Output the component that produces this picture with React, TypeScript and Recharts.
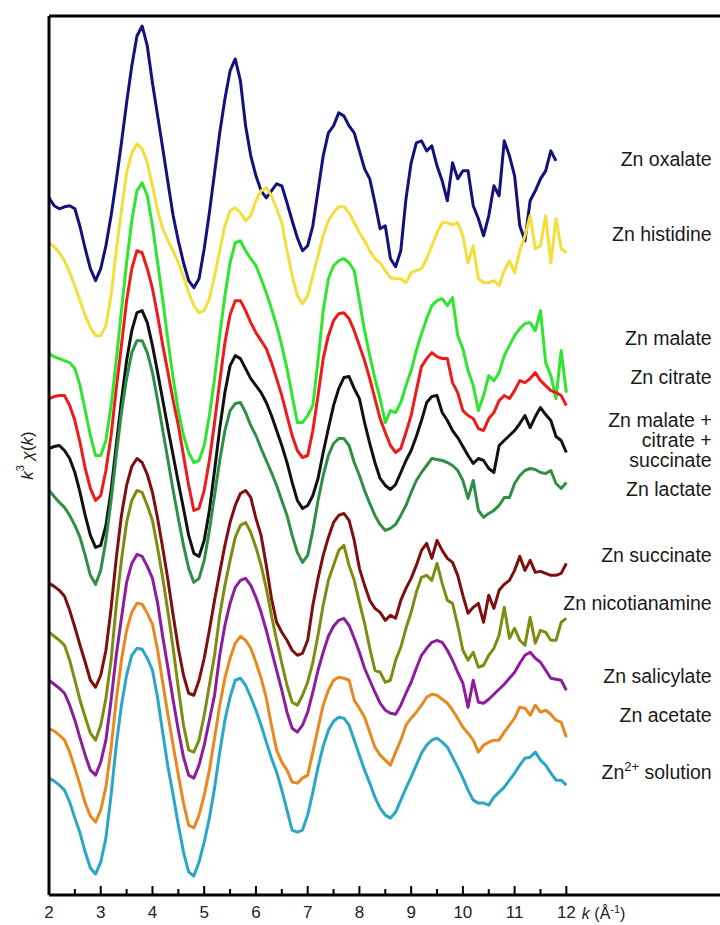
import { LineChart, Line, XAxis, YAxis, ReferenceDot } from "recharts";

const FONT = "'Liberation Sans', Arial, Helvetica, sans-serif";

// k grid (Å^-1)
const K = [
  2.0, 2.1, 2.2, 2.3, 2.4, 2.5, 2.6, 2.7, 2.8, 2.9,
  3.0, 3.1, 3.2, 3.3, 3.4, 3.5, 3.6, 3.7, 3.8, 3.9,
  4.0, 4.1, 4.2, 4.3, 4.4, 4.5, 4.6, 4.7, 4.8, 4.9,
  5.0, 5.1, 5.2, 5.3, 5.4, 5.5, 5.6, 5.7, 5.8, 5.9,
  6.0, 6.1, 6.2, 6.3, 6.4, 6.5, 6.6, 6.7, 6.8, 6.9,
  7.0, 7.1, 7.2, 7.3, 7.4, 7.5, 7.6, 7.7, 7.8, 7.9,
  8.0, 8.1, 8.2, 8.3, 8.4, 8.5, 8.6, 8.7, 8.8, 8.9,
  9.0, 9.1, 9.2, 9.3, 9.4, 9.5, 9.6, 9.7, 9.8, 9.9,
  10.0, 10.1, 10.2, 10.3, 10.4, 10.5, 10.6, 10.7, 10.8, 10.9,
  11.0, 11.1, 11.2, 11.3, 11.4, 11.5, 11.6, 11.7, 11.8, 11.9,
  12.0,
];

// k^3 chi(k), stacked with offsets (arbitrary units)
const OXALATE = [
  69.8, 69.0, 68.7, 68.9, 69.0, 68.7, 66.9, 64.7, 62.7, 61.5,
  62.7, 65.0, 68.0, 71.5, 75.3, 79.3, 83.0, 86.0, 87.0, 85.0,
  81.3, 78.0, 74.7, 71.3, 68.0, 65.5, 63.3, 61.5, 60.8, 61.7,
  64.7, 68.3, 72.3, 76.3, 79.7, 82.5, 83.7, 81.5, 77.0, 74.0,
  72.0, 70.5, 69.8, 70.5, 71.2, 71.0, 69.3, 67.5, 65.8, 64.5,
  65.0, 67.0, 70.5, 74.0, 76.3, 77.0, 78.3, 78.0, 77.0, 76.3,
  74.5, 72.7, 71.7, 69.3, 66.7, 67.0, 63.7, 62.9, 64.5, 69.7,
  73.3, 75.3, 75.5, 74.5, 75.0, 73.0, 71.5, 69.5, 73.3, 71.7,
  72.5, 72.5, 69.0, 67.7, 66.0, 68.0, 71.0, 70.0, 75.5, 74.0,
  72.0, 67.0, 65.5, 69.5, 70.5, 71.7, 72.5, 74.5, 73.5, null,
  null,
];

const HISTIDINE = [
  65.3, 64.9, 64.3, 63.5, 62.3, 61.0, 59.5, 58.0, 56.8, 56.0,
  56.0, 57.0, 60.0, 64.5, 68.5, 72.3, 74.3, 75.2, 74.7, 73.3,
  71.0, 68.5, 66.7, 65.5, 64.5, 63.3, 61.9, 60.3, 59.0, 58.3,
  58.5, 59.7, 62.0, 64.5, 67.0, 68.5, 68.8, 68.3, 67.5, 68.0,
  69.5, 70.5, 70.8, 70.0, 68.7, 67.3, 64.5, 62.0, 60.0, 59.2,
  60.0, 62.0, 64.0, 66.0, 67.5, 68.3, 68.9, 68.9, 68.3, 67.3,
  66.3, 65.5, 64.5, 63.7, 63.3, 62.5, 61.8, 61.7, 61.7, 61.3,
  62.3, 62.5, 62.7, 63.7, 65.0, 66.3, 67.3, 67.3, 67.1, 67.3,
  66.0, 63.3, 65.0, 61.7, 61.3, 61.3, 61.5, 61.0, 62.5, 63.5,
  62.3, 64.5, 66.0, 68.0, 64.7, 65.0, 68.0, 63.3, 67.7, 64.7,
  64.3,
];

const MALATE = [
  54.2, 53.9, 53.7, 53.5, 53.3, 52.7, 51.0, 48.5, 46.0, 44.0,
  44.0, 45.5, 49.0, 53.5, 58.5, 63.3, 67.5, 70.5, 71.3, 70.0,
  67.0, 63.3, 59.5, 55.5, 51.7, 48.5, 46.0, 44.3, 43.3, 43.5,
  45.0, 48.0, 51.7, 56.0, 60.0, 63.3, 65.3, 65.5, 64.5, 63.7,
  63.0, 61.7, 60.3, 58.7, 57.0, 55.0, 52.7, 50.0, 47.3, 47.3,
  48.0, 49.0, 53.5, 58.5, 61.7, 63.0, 63.5, 63.7, 63.3, 62.5,
  59.5, 56.5, 54.0, 51.7, 49.7, 47.3, 48.5, 48.3, 49.3, 51.0,
  52.5, 54.5, 56.2, 57.7, 59.0, 59.5, 59.7, 59.0, 59.8, 56.0,
  54.7, 52.5, 51.0, 48.5, 50.0, 52.0, 51.5, 52.3, 54.0, 55.0,
  56.0, 56.7, 57.2, 57.3, 56.5, 58.5, 53.3, 52.0, 49.7, 54.5,
  50.3,
];

const CITRATE = [
  49.7, 49.9, 50.0, 50.0, 49.0, 47.5, 45.3, 42.7, 40.7, 39.5,
  40.0, 42.5, 46.0, 50.7, 55.0, 59.5, 62.7, 64.5, 64.3, 62.7,
  60.7, 58.0, 55.0, 52.3, 49.5, 47.0, 44.0, 41.0, 38.5, 38.7,
  40.5, 43.5, 47.3, 51.4, 55.3, 58.1, 59.5, 59.5, 58.5, 57.3,
  56.3, 55.5, 54.7, 53.3, 51.7, 50.0, 48.0, 46.0, 44.5, 43.8,
  44.0, 46.5, 50.0, 53.7, 56.0, 57.5, 58.2, 58.3, 57.7, 56.5,
  55.0, 53.5, 51.7, 49.7, 47.7, 46.3, 45.0, 44.3, 44.7, 46.3,
  48.0, 50.5, 52.9, 53.7, 54.3, 53.9, 53.7, 53.7, 51.3, 50.3,
  48.5, 48.0, 47.7, 46.7, 46.5, 47.7, 48.3, 49.5, 50.0, 49.7,
  50.5, 51.5, 51.3, 51.7, 52.3, 51.5, 51.0, 50.5, 50.3, 50.0,
  49.0,
];

const MIX = [
  44.7, 44.9, 45.0, 44.5, 43.7, 42.3, 40.3, 38.0, 36.0, 34.8,
  35.0, 37.0, 40.5, 45.0, 49.5, 53.5, 56.5, 58.3, 58.5, 57.3,
  55.0, 52.3, 49.5, 46.7, 44.0, 41.3, 38.7, 36.0, 34.2, 33.9,
  35.5, 38.5, 42.5, 46.7, 50.3, 53.0, 54.0, 53.7, 52.7, 51.7,
  51.0, 50.3, 49.3, 48.0, 46.5, 45.0, 43.3, 41.3, 39.5, 38.7,
  39.0, 40.0, 41.7, 44.3, 46.7, 49.0, 50.7, 51.8, 51.9, 50.7,
  49.7, 47.3, 45.2, 43.3, 41.7, 41.0, 40.6, 41.1, 42.3, 43.5,
  44.5, 45.9, 47.5, 49.3, 49.9, 50.0, 48.3, 47.5, 46.5, 45.8,
  44.9, 44.0, 43.2, 43.7, 43.5, 42.7, 42.3, 45.0, 45.5, 46.0,
  46.5, 47.2, 48.0, 46.8, 47.9, 48.8, 48.1, 47.5, 45.9, 45.5,
  44.3,
];

const LACTATE = [
  40.5, 39.9, 39.3, 38.8, 38.0, 37.0, 35.8, 34.0, 32.0, 31.1,
  32.5, 35.5, 39.5, 44.0, 48.3, 51.7, 54.3, 55.5, 55.5, 54.3,
  52.3, 49.5, 46.5, 43.5, 40.5, 37.7, 35.0, 32.7, 31.3, 31.7,
  33.5, 36.5, 40.0, 43.5, 46.5, 48.5, 49.2, 49.3, 48.3, 47.0,
  46.0, 44.7, 43.5, 42.3, 41.0, 39.5, 38.0, 36.0, 34.3, 33.3,
  34.0, 36.5, 39.5, 42.0, 44.0, 45.2, 45.7, 45.7, 45.0, 43.3,
  42.0, 40.5, 39.2, 38.0, 37.1, 36.5, 36.7, 37.1, 38.0, 39.0,
  40.3, 41.5, 42.3, 43.0, 43.7, 43.6, 43.5, 43.3, 43.0, 42.5,
  41.5, 39.7, 41.5, 38.5, 37.8, 38.2, 38.5, 39.0, 39.8, 39.8,
  41.2, 42.0, 42.5, 42.7, 42.6, 42.3, 42.2, 42.5, 41.2, 40.7,
  41.3,
];

const SUCCINATE = [
  31.2, 30.9, 30.5, 29.9, 28.5, 26.8, 25.0, 23.3, 21.5, 20.8,
  22.0, 24.5, 28.7, 33.7, 38.0, 41.0, 42.9, 43.7, 43.3, 42.1,
  40.3, 37.7, 34.7, 31.5, 28.0, 24.7, 22.0, 20.2, 20.0, 21.5,
  23.7, 26.5, 29.5, 32.3, 35.0, 37.3, 39.0, 40.2, 40.5, 39.8,
  37.7, 36.0, 33.0, 29.7, 27.3, 26.3, 25.5, 24.5, 24.0, 24.2,
  25.5, 29.0, 31.7, 34.0, 35.8, 37.3, 38.0, 38.2, 37.5, 35.5,
  32.7, 31.0, 29.5, 28.7, 28.3, 27.5, 28.0, 27.7, 29.5, 30.7,
  31.7, 33.0, 34.5, 35.2, 33.7, 35.5, 34.5, 33.7, 33.3, 32.0,
  30.0, 28.2, 28.8, 29.2, 27.3, 30.0, 28.7, 30.5, 31.1, 31.5,
  32.5, 33.9, 32.5, 33.5, 32.3, 32.4, 32.2, 32.0, 32.0, 32.2,
  33.2,
];

const NICOTIANAMINE = [
  26.3, 25.9, 25.5, 25.0, 23.5, 21.5, 19.5, 17.8, 16.2, 15.5,
  17.0, 19.7, 23.5, 29.0, 33.5, 37.3, 39.5, 40.5, 40.3, 39.0,
  37.5, 34.7, 31.7, 28.3, 24.7, 20.7, 17.0, 14.5, 14.3, 15.5,
  18.0, 21.0, 24.0, 28.0, 31.0, 33.5, 35.8, 37.0, 37.3, 36.3,
  34.8, 33.0, 30.7, 28.0, 25.5, 23.2, 21.0, 19.3, 19.0, 20.0,
  21.3, 23.3, 26.0, 29.0, 31.5, 33.0, 34.5, 35.0, 33.0, 31.5,
  29.3, 27.2, 24.7, 22.5, 22.3, 21.3, 21.5, 23.5, 24.8, 26.7,
  28.3, 30.3, 31.8, 32.0, 31.5, 33.2, 31.2, 29.5, 29.2, 27.0,
  24.5, 23.5, 24.3, 22.8, 23.0, 24.0, 24.7, 26.0, 28.8, 25.7,
  26.7, 25.5, 25.0, 27.8, 25.2, 26.5, 26.3, 25.5, 25.5, 27.3,
  27.7,
];

const SALICYLATE = [
  21.5, 21.1, 20.7, 20.2, 19.0, 17.5, 15.7, 14.0, 12.5, 12.0,
  13.3, 15.5, 19.5, 24.0, 27.7, 31.3, 33.2, 34.1, 33.9, 32.9,
  31.7, 29.2, 25.8, 22.7, 19.5, 16.5, 13.8, 12.0, 11.7, 13.0,
  15.0, 17.5, 20.0, 24.0, 27.0, 29.2, 30.8, 31.5, 31.7, 31.0,
  29.8, 28.3, 26.5, 24.5, 22.5, 20.5, 18.3, 16.7, 16.3, 17.0,
  18.3, 20.3, 22.5, 24.3, 25.9, 26.9, 27.5, 27.7, 27.0, 25.7,
  24.3, 22.7, 21.5, 20.3, 19.2, 18.5, 18.2, 18.1, 19.0, 20.2,
  21.3, 22.7, 24.0, 24.7, 25.3, 25.5, 25.3, 24.5, 23.5, 22.3,
  21.2, 18.8, 21.5, 19.3, 19.2, 19.6, 20.1, 20.6, 21.1, 21.7,
  22.3, 23.2, 24.0, 24.3, 23.7, 23.3, 22.5, 21.7, 21.6, 21.5,
  20.5,
];

const ACETATE = [
  16.7, 16.4, 16.0, 15.5, 14.3, 12.7, 11.0, 9.2, 7.9, 7.3,
  8.5, 10.8, 14.7, 19.5, 23.5, 26.5, 28.3, 29.2, 29.1, 28.2,
  27.1, 24.5, 21.2, 18.0, 15.0, 12.0, 9.2, 7.0, 6.7, 8.0,
  10.0, 12.5, 15.7, 19.0, 21.7, 23.7, 25.2, 25.9, 25.5, 24.7,
  23.3, 21.7, 19.7, 17.0, 14.5, 13.3, 12.5, 11.3, 11.2, 11.7,
  12.0, 14.3, 16.7, 19.0, 20.5, 21.5, 21.8, 21.7, 21.5, 19.5,
  18.7, 17.8, 16.3, 14.8, 14.0, 13.5, 13.0, 14.3, 15.5, 17.0,
  17.7, 18.3, 19.0, 19.8, 20.1, 20.0, 19.6, 19.2, 18.5, 17.7,
  16.8, 16.2, 15.5, 14.3, 15.0, 15.3, 15.5, 15.5, 16.3, 17.0,
  17.7, 18.8, 18.7, 18.0, 19.0, 18.3, 18.5, 18.1, 17.5, 17.3,
  15.8,
];

const SOLUTION = [
  11.7, 11.4, 11.0, 10.5, 9.3, 7.7, 6.2, 4.3, 2.7, 2.1,
  3.3, 5.7, 10.0, 15.0, 19.0, 22.0, 24.0, 24.7, 24.6, 23.7,
  22.5, 19.7, 16.2, 12.8, 10.0, 7.0, 4.3, 2.3, 1.9, 3.3,
  5.3, 7.7, 10.7, 14.3, 17.5, 19.8, 21.5, 21.7, 21.0, 19.8,
  18.5, 17.0, 15.3, 13.7, 12.3, 10.5, 8.5, 6.5, 6.3, 6.5,
  8.0, 10.3, 12.8, 14.9, 16.5, 17.4, 17.8, 17.7, 17.0, 15.5,
  14.0, 12.5, 11.2, 9.8, 8.7, 8.0, 7.7, 8.3, 9.5, 10.7,
  11.8, 13.0, 14.2, 15.0, 15.5, 15.7, 15.3, 14.8, 13.8, 12.8,
  11.7, 10.5, 9.5, 9.2, 9.2, 9.0, 9.8, 10.3, 10.8, 11.5,
  12.2, 13.0, 13.7, 13.8, 14.3, 13.5, 13.0, 12.2, 11.5, 11.5,
  11.0,
];

const SERIES = [
  { key: "oxalate", color: "#12127a", values: OXALATE },
  { key: "histidine", color: "#f3df3a", values: HISTIDINE },
  { key: "malate", color: "#2ee62e", values: MALATE },
  { key: "citrate", color: "#ee1b1b", values: CITRATE },
  { key: "mix", color: "#111111", values: MIX },
  { key: "lactate", color: "#2f8f46", values: LACTATE },
  { key: "succinate", color: "#7d0f0f", values: SUCCINATE },
  { key: "nicotianamine", color: "#7f8c12", values: NICOTIANAMINE },
  { key: "salicylate", color: "#8d1c9e", values: SALICYLATE },
  { key: "acetate", color: "#e8891f", values: ACETATE },
  { key: "solution", color: "#2ba6c6", values: SOLUTION },
];

// sample names at the right; "^" wraps a superscript
const SAMPLE_LABELS = [
  { lines: ["Zn oxalate"], y: 73.7 },
  { lines: ["Zn histidine"], y: 66.2 },
  { lines: ["Zn malate"], y: 55.8 },
  { lines: ["Zn citrate"], y: 51.9 },
  { lines: ["Zn malate +", "citrate +", "succinate"], y: 45.6 },
  { lines: ["Zn lactate"], y: 40.6 },
  { lines: ["Zn succinate"], y: 34.0 },
  { lines: ["Zn nicotianamine"], y: 29.2 },
  { lines: ["Zn salicylate"], y: 21.9 },
  { lines: ["Zn acetate"], y: 18.0 },
  { lines: ["Zn^2+^ solution"], y: 12.3 },
];
const LABEL_K = 14.81;

const TICKS = [2, 2.5, 3, 3.5, 4, 4.5, 5, 5.5, 6, 6.5, 7, 7.5, 8, 8.5, 9, 9.5, 10, 10.5, 11, 11.5, 12];

const data = K.map((k, i) => {
  const row: Record<string, number | null> = { k };
  SERIES.forEach((s) => {
    row[s.key] = s.values[i];
  });
  return row;
});

// inward tick marks: long on integers, short on halves
function KTick(props: any) {
  const { x, y, payload } = props;
  const major = Number.isInteger(payload.value);
  return (
    <g>
      <rect x={x - 1} y={y - (major ? 9 : 6)} width={2} height={major ? 9 : 6} fill="#000" />
      {major && (
        <text x={x} y={y + 23} textAnchor="middle" fontSize={17} fill="#222" fontFamily={FONT}>
          {payload.value}
        </text>
      )}
    </g>
  );
}

function SampleLabel(props: any) {
  const vb = props.viewBox || { x: props.x, y: props.y };
  const lines: string[] = props.lines;
  const n = lines.length;
  return (
    <text textAnchor="end" fontSize={19.5} fill="#1a1a1a" fontFamily={FONT}>
      {lines.map((ln, i) => {
        const parts = ln.split("^");
        return (
          <tspan key={i} x={vb.x} y={vb.y + 7 + (i - (n - 1) / 2) * 20}>
            {parts.map((p, j) =>
              j % 2 === 1 ? (
                <tspan key={j} dy={-8} fontSize={13}>
                  {p}
                </tspan>
              ) : j > 0 ? (
                <tspan key={j} dy={8}>
                  {p}
                </tspan>
              ) : (
                <tspan key={j}>{p}</tspan>
              )
            )}
          </tspan>
        );
      })}
    </text>
  );
}

function YTitle(props: any) {
  const vb = props.viewBox;
  const cx = vb.x - 21;
  const cy = vb.y + vb.height / 2;
  return (
    <text
      transform={`translate(${cx},${cy}) rotate(-90)`}
      textAnchor="middle"
      dominantBaseline="central"
      fontSize={17}
      fill="#222"
      fontFamily={FONT}
    >
      <tspan fontStyle="italic">k</tspan>
      <tspan dy={-7} fontSize={11}>3</tspan>
      <tspan dy={7}> </tspan>
      <tspan fontStyle="italic">χ</tspan>
      <tspan>(</tspan>
      <tspan fontStyle="italic">k</tspan>
      <tspan>)</tspan>
    </text>
  );
}

function XTitle(props: any) {
  const vb = props.viewBox || { x: props.x, y: props.y };
  return (
    <text x={vb.x} y={vb.y + 24} fontSize={16} fill="#222" fontFamily={FONT}>
      <tspan fontStyle="italic">k</tspan>
      <tspan> (Å</tspan>
      <tspan dy={-6} fontSize={11}>-1</tspan>
      <tspan dy={6}>)</tspan>
    </text>
  );
}

export default function App() {
  return (
    <div style={{ position: "absolute", left: 0, top: 0, width: 720, height: 925, background: "#fff" }}>
      <LineChart width={720} height={925} data={data} margin={{ top: 15, right: 0, bottom: 0, left: 48 }}>
        <XAxis
          xAxisId="top"
          orientation="top"
          type="number"
          dataKey="k"
          domain={[2, 14.97]}
          height={1}
          tick={false}
          tickLine={false}
          axisLine={{ stroke: "#000", strokeWidth: 3 }}
        />
        <XAxis
          type="number"
          dataKey="k"
          domain={[2, 14.97]}
          ticks={TICKS}
          interval={0}
          tick={<KTick />}
          tickLine={false}
          tickSize={0}
          tickMargin={0}
          height={30}
          axisLine={{ stroke: "#000", strokeWidth: 3 }}
        />
        <YAxis
          type="number"
          domain={[0, 88]}
          width={1}
          tick={false}
          tickLine={false}
          axisLine={{ stroke: "#000", strokeWidth: 3 }}
          label={<YTitle />}
        />
        {SERIES.map((s) => (
          <Line
            key={s.key}
            dataKey={s.key}
            type="linear"
            stroke={s.color}
            strokeWidth={3}
            strokeLinejoin="round"
            dot={false}
            activeDot={false}
            isAnimationActive={false}
          />
        ))}
        {SAMPLE_LABELS.map((l, i) => (
          <ReferenceDot
            key={i}
            x={LABEL_K}
            y={l.y}
            r={0}
            fill="none"
            stroke="none"
            label={<SampleLabel lines={l.lines} />}
          />
        ))}
        <ReferenceDot x={12.3} y={0} r={0} fill="none" stroke="none" label={<XTitle />} />
      </LineChart>
    </div>
  );
}
